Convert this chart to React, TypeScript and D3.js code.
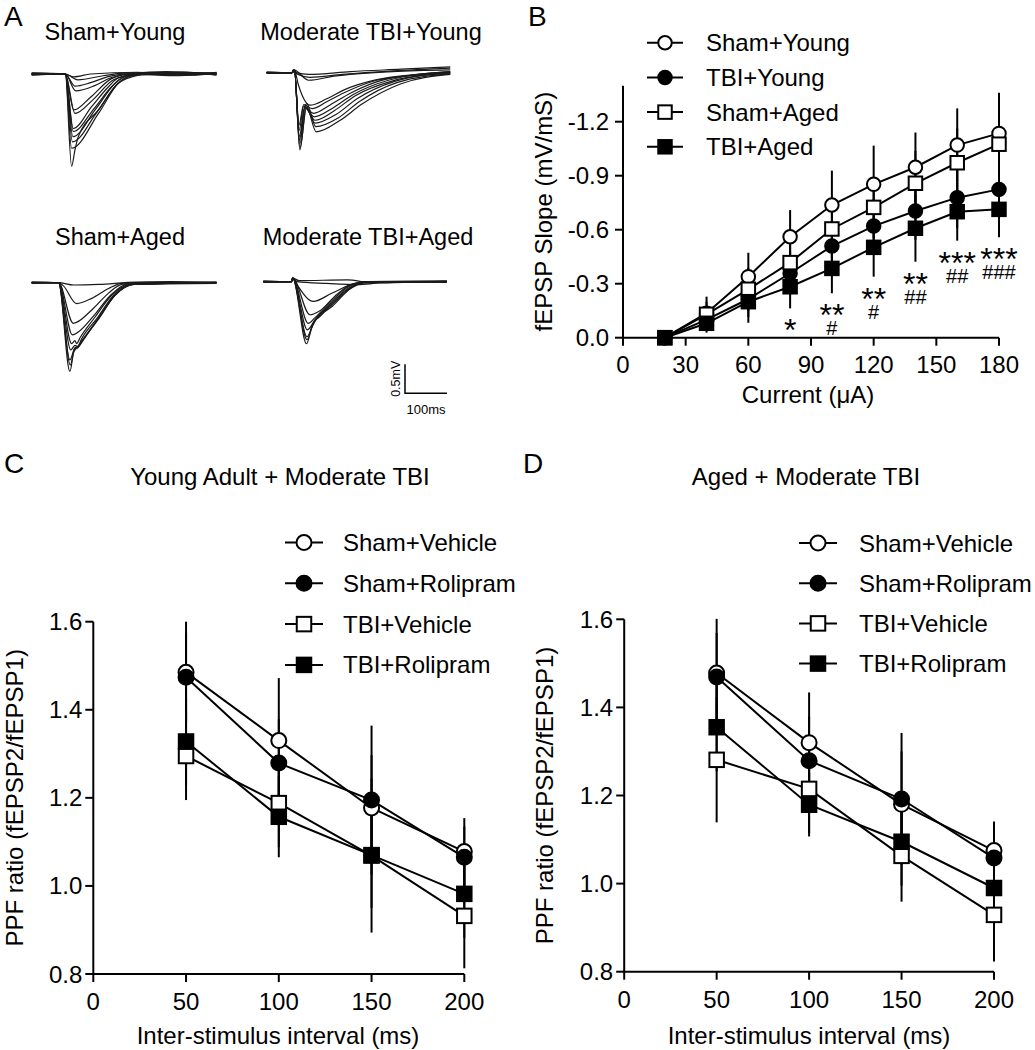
import React from "react";
import * as d3 from "d3";

const FONT = "'Liberation Sans', Arial, Helvetica, sans-serif";
type Pt = [number, number];

// ---------- Panel A: fEPSP traces (time ms, amplitude mV) ----------
const traceShamYoung: Pt[][] = [
  [[0, 0.01], [80, 0], [100, -0.05], [140, 0], [250, 0.03], [340, 0.0], [440, 0.02]],
  [[0, -0.01], [80, 0], [110, -0.1], [170, -0.03], [230, 0.02], [330, -0.02], [440, 0.0]],
  [[0, 0], [80, 0], [103, -0.21], [140, -0.15], [180, -0.05], [240, 0.01], [360, 0.03], [440, -0.02]],
  [[0, 0.02], [80, 0], [105, -0.29], [150, -0.2], [190, -0.06], [240, 0], [350, -0.03], [440, 0.03]],
  [[0, 0], [80, 0], [100, -0.62], [140, -0.4], [190, -0.08], [240, 0.01], [320, 0.04], [440, 0]],
  [[0, -0.02], [80, 0], [103, -0.68], [145, -0.45], [195, -0.1], [250, 0], [380, -0.02], [440, 0.01]],
  [[0, 0], [80, 0], [99, -0.94], [143, -0.56], [183, -0.22], [206, -0.07], [260, 0], [440, 0]],
  [[0, 0.01], [80, 0], [99, -0.99], [148, -0.6], [190, -0.22], [215, -0.06], [270, 0.02], [440, -0.01]],
  [[0, 0], [80, 0], [98, -1.08], [151, -0.62], [199, -0.16], [230, -0.03], [300, 0.02], [440, 0.02]],
  [[0, 0], [80, 0], [97, -1.17], [155, -0.66], [203, -0.18], [240, -0.02], [440, 0]],
  [[0, -0.01], [80, 0], [95, -1.28], [159, -0.68], [206, -0.16], [240, -0.03], [300, 0.01], [440, 0.01]],
  [[0, 0], [80, 0], [95, -1.59], [103, -1.31], [111, -1.08], [159, -0.62], [206, -0.16], [238, -0.05], [280, 0], [440, 0]],
];

const traceTbiYoung: Pt[][] = [
  [[0, 0], [60, 0], [64, 0.05], [70, 0], [100, -0.03], [200, 0.02], [320, 0.06], [437, 0.1]],
  [[0, 0.01], [60, 0], [64, 0.05], [72, -0.02], [103, -0.08], [180, -0.03], [300, 0.03], [437, 0.08]],
  [[0, 0], [60, 0], [64, 0.05], [100, -0.13], [160, -0.06], [300, 0.02], [437, 0.05]],
  [[0, -0.01], [60, 0], [66, 0.04], [75, -0.2], [103, -0.56], [143, -0.45], [183, -0.3], [262, -0.12], [341, -0.04], [437, 0.0]],
  [[0, 0], [60, 0], [66, 0.04], [77, -0.9], [88, -0.55], [108, -0.62], [143, -0.5], [183, -0.35], [262, -0.13], [341, -0.05], [437, -0.02]],
  [[0, 0], [60, 0], [66, 0.04], [77, -1.0], [88, -0.58], [112, -0.7], [150, -0.56], [200, -0.35], [280, -0.12], [437, 0.02]],
  [[0, 0.01], [60, 0], [66, 0.04], [78, -1.1], [90, -0.6], [113, -0.76], [155, -0.62], [205, -0.38], [290, -0.13], [437, 0.02]],
  [[0, 0], [60, 0], [66, 0.04], [78, -1.16], [91, -0.6], [115, -0.82], [160, -0.66], [210, -0.4], [300, -0.14], [437, 0.0]],
  [[0, 0], [60, 0], [66, 0.04], [79, -1.22], [92, -0.55], [115, -0.87], [165, -0.72], [215, -0.45], [305, -0.15], [437, 0.0]],
  [[0, -0.01], [60, 0], [66, 0.04], [79, -1.33], [95, -0.53], [117, -0.93], [170, -0.78], [220, -0.5], [310, -0.17], [437, -0.02]],
  [[0, 0], [60, 0], [66, 0.04], [79, -1.3], [95, -0.6], [118, -1.02], [175, -0.82], [225, -0.55], [320, -0.19], [437, -0.03]],
];

const traceShamAged: Pt[][] = [
  [[0, 0], [64, 0], [100, -0.04], [160, -0.03], [250, 0.01], [440, 0]],
  [[0, 0.01], [64, 0], [75, -0.05], [107, -0.36], [143, -0.27], [183, -0.1], [214, -0.01], [330, 0.02], [440, 0]],
  [[0, 0], [64, 0], [99, -0.7], [143, -0.47], [183, -0.18], [214, -0.03], [260, 0], [440, 0.01]],
  [[0, -0.01], [64, 0], [97, -0.9], [111, -0.85], [150, -0.55], [190, -0.2], [230, -0.02], [440, 0]],
  [[0, 0], [64, 0], [95, -1.05], [103, -1.0], [107, -1.05], [115, -0.95], [150, -0.6], [190, -0.22], [235, -0.03], [440, 0]],
  [[0, 0], [64, 0], [93, -1.16], [103, -1.08], [110, -1.1], [118, -0.98], [155, -0.62], [195, -0.22], [240, -0.03], [440, -0.01]],
  [[0, 0.01], [64, 0], [91, -1.33], [103, -1.12], [110, -1.1], [120, -1.0], [157, -0.63], [198, -0.22], [242, -0.03], [440, 0]],
  [[0, 0], [64, 0], [91, -1.53], [100, -1.2], [108, -1.12], [120, -1.0], [160, -0.62], [200, -0.2], [245, -0.03], [440, 0.01]],
  [[0, 0], [64, 0], [92, -1.42], [102, -1.14], [110, -1.12], [122, -1.0], [160, -0.6], [200, -0.2], [245, -0.02], [440, 0]],
];

const traceTbiAged: Pt[][] = [
  [[0, 0], [67, 0], [70, 0.06], [80, 0], [150, -0.03], [230, -0.05], [300, 0], [437, 0]],
  [[0, 0.01], [67, 0], [70, 0.06], [85, 0.02], [200, 0.03], [260, -0.02], [437, 0.01]],
  [[0, 0], [67, 0], [70, 0.06], [80, -0.05], [119, -0.34], [163, -0.2], [218, -0.03], [260, 0], [437, 0]],
  [[0, -0.01], [67, 0], [70, 0.06], [111, -0.57], [135, -0.5], [175, -0.22], [220, -0.03], [437, 0]],
  [[0, 0], [67, 0], [70, 0.06], [107, -0.72], [123, -0.62], [160, -0.35], [205, -0.08], [240, 0], [437, 0.01]],
  [[0, 0], [67, 0], [70, 0.06], [105, -0.83], [123, -0.66], [160, -0.38], [210, -0.08], [250, 0], [437, -0.01]],
  [[0, 0.01], [67, 0], [70, 0.06], [104, -0.95], [123, -0.66], [130, -0.63], [160, -0.4], [210, -0.09], [250, 0], [437, 0]],
  [[0, 0], [67, 0], [70, 0.06], [103, -1.07], [115, -0.8], [123, -0.68], [160, -0.42], [212, -0.1], [250, 0], [437, 0]],
  [[0, 0], [67, 0], [70, 0.06], [104, -1.0], [118, -0.74], [125, -0.66], [165, -0.42], [212, -0.09], [255, 0], [437, 0.01]],
];

const traceTitles = ["Sham+Young", "Moderate TBI+Young", "Sham+Aged", "Moderate TBI+Aged"];
const scaleBarMs = 100;
const scaleBarMv = 0.5;

// ---------- Panel B: input/output (fEPSP slope, mV/ms) ----------
const currentB = [20, 40, 60, 80, 100, 120, 140, 160, 180];
const bShamYoung = [0, -0.136, -0.339, -0.561, -0.737, -0.852, -0.947, -1.07, -1.135];
const bShamYoungSem = [0, 0.092, 0.133, 0.148, 0.191, 0.215, 0.193, 0.204, 0.226];
const bTbiYoung = [0, -0.1, -0.215, -0.358, -0.509, -0.62, -0.704, -0.778, -0.824];
const bTbiYoungSem = [0, 0.06, 0.1, 0.12, 0.14, 0.15, 0.16, 0.17, 0.18];
const bShamAged = [0, -0.13, -0.269, -0.417, -0.604, -0.724, -0.858, -0.972, -1.075];
const bShamAgedSem = [0, 0.07, 0.12, 0.14, 0.16, 0.17, 0.18, 0.19, 0.2];
const bTbiAged = [0, -0.08, -0.2, -0.283, -0.385, -0.502, -0.608, -0.7, -0.713];
const bTbiAgedSem = [0, 0.052, 0.117, 0.12, 0.138, 0.163, 0.186, 0.161, 0.155];
const sigStars = ["", "", "", "*", "**", "**", "**", "***", "***"];
const sigHashes = ["", "", "", "", "#", "#", "##", "##", "###"];
const xTicksB = [0, 30, 60, 90, 120, 150, 180];
const yTicksB = [0, -0.3, -0.6, -0.9, -1.2];

// ---------- Panels C & D: paired-pulse facilitation ----------
const isi = [50, 100, 150, 200];
const cShamVehicle = [1.485, 1.33, 1.177, 1.078];
const cShamVehicleSem = [0.115, 0.142, 0.12, 0.076];
const cShamRolipram = [1.474, 1.279, 1.195, 1.065];
const cShamRolipramSem = [0.1, 0.1, 0.169, 0.07];
const cTbiVehicle = [1.295, 1.188, 1.069, 0.932];
const cTbiVehicleSem = [0.1, 0.1, 0.175, 0.119];
const cTbiRolipram = [1.328, 1.157, 1.07, 0.982];
const cTbiRolipramSem = [0.1, 0.092, 0.12, 0.1];

const dShamVehicle = [1.478, 1.32, 1.18, 1.075];
const dShamVehicleSem = [0.123, 0.114, 0.12, 0.066];
const dShamRolipram = [1.469, 1.279, 1.192, 1.058];
const dShamRolipramSem = [0.1, 0.1, 0.15, 0.07];
const dTbiVehicle = [1.281, 1.215, 1.063, 0.929];
const dTbiVehicleSem = [0.142, 0.1, 0.104, 0.106];
const dTbiRolipram = [1.355, 1.179, 1.095, 0.99];
const dTbiRolipramSem = [0.1, 0.072, 0.1, 0.1];

const xTicksPPF = [0, 50, 100, 150, 200];
const yTicksPPF = [0.8, 1.0, 1.2, 1.4, 1.6];

type Series = { name: string; values: number[]; sem: number[]; shape: "circle" | "square"; filled: boolean };

function marker(key: string, cx: number, cy: number, shape: string, filled: boolean, size: number) {
  if (shape === "circle")
    return <circle key={key} cx={cx} cy={cy} r={size / 2} fill={filled ? "#000" : "#fff"} stroke="#000" strokeWidth={2} />;
  return (
    <rect key={key} x={cx - size / 2} y={cy - size / 2} width={size} height={size} fill={filled ? "#000" : "#fff"} stroke="#000" strokeWidth={2} />
  );
}

function TracePanel({ traces, x0, yb, title, titleX, titleY }: { traces: Pt[][]; x0: number; yb: number; title: string; titleX: number; titleY: number }) {
  const x = d3.scaleLinear().domain([0, 440]).range([x0, x0 + 0.42 * 440]);
  const y = d3.scaleLinear().domain([0, -1]).range([yb, yb + 58]);
  const line = d3
    .line<Pt>()
    .x((d) => x(d[0]))
    .y((d) => y(d[1]))
    .curve(d3.curveMonotoneX);
  return (
    <g>
      <text x={titleX} y={titleY} textAnchor="middle" fontSize={23.5} fontFamily={FONT}>
        {title}
      </text>
      {traces.map((t, i) => (
        <path key={i} d={line(t) || ""} fill="none" stroke="#1a1a1a" strokeWidth={1.2} />
      ))}
    </g>
  );
}

function PPFPanel({
  series, x0, x1, yBottom, yTop, title, titleX, legendLineX, legendTextX, legendY0, legendStep, yTitleX, xTitleX,
}: {
  series: Series[]; x0: number; x1: number; yBottom: number; yTop: number; title: string; titleX: number;
  legendLineX: number; legendTextX: number; legendY0: number; legendStep: number; yTitleX: number; xTitleX: number;
}) {
  const x = d3.scaleLinear().domain([0, 200]).range([x0, x1]);
  const y = d3.scaleLinear().domain([0.8, 1.6]).range([yBottom, yTop]);
  const line = d3
    .line<number>()
    .x((_, i) => x(isi[i]))
    .y((d) => y(d));
  const fmt = d3.format(".1f");
  return (
    <g fontFamily={FONT}>
      <text x={titleX} y={485} textAnchor="middle" fontSize={24}>
        {title}
      </text>
      {series.map((s, si) => {
        const cy = legendY0 + si * legendStep;
        return (
          <g key={"lg" + si}>
            <line x1={legendLineX - 19} x2={legendLineX + 19} y1={cy} y2={cy} stroke="#000" strokeWidth={2} />
            {marker("lm" + si, legendLineX, cy, s.shape, s.filled, s.shape === "circle" ? 15 : 14.5)}
            <text x={legendTextX} y={cy + 8.5} fontSize={24}>
              {s.name}
            </text>
          </g>
        );
      })}
      {/* axes */}
      <line x1={x0} x2={x0} y1={y(0.8)} y2={y(1.6)} stroke="#000" strokeWidth={2} />
      <line x1={x0 - 1} x2={x(200)} y1={y(0.8)} y2={y(0.8)} stroke="#000" strokeWidth={2} />
      {yTicksPPF.map((t) => (
        <g key={"yt" + t}>
          <line x1={x0 - 8} x2={x0} y1={y(t)} y2={y(t)} stroke="#000" strokeWidth={2} />
          <text x={x0 - 11} y={y(t) + 8.5} textAnchor="end" fontSize={24}>
            {fmt(t)}
          </text>
        </g>
      ))}
      {xTicksPPF.map((t) => (
        <g key={"xt" + t}>
          <line x1={x(t)} x2={x(t)} y1={y(0.8)} y2={y(0.8) + 8} stroke="#000" strokeWidth={2} />
          <text x={x(t)} y={y(0.8) + 36} textAnchor="middle" fontSize={24}>
            {t}
          </text>
        </g>
      ))}
      <text x={xTitleX} y={1044} textAnchor="middle" fontSize={24}>
        Inter-stimulus interval (ms)
      </text>
      <text transform={`translate(${yTitleX},${(y(0.8) + y(1.6)) / 2}) rotate(-90)`} textAnchor="middle" fontSize={24}>
        PPF ratio (fEPSP2/fEPSP1)
      </text>
      {/* error bars */}
      {series.map((s, si) =>
        s.values.map((v, i) => (
          <line key={"e" + si + "-" + i} x1={x(isi[i])} x2={x(isi[i])} y1={y(v - s.sem[i])} y2={y(v + s.sem[i])} stroke="#000" strokeWidth={2} />
        ))
      )}
      {series.map((s, si) => (
        <path key={"l" + si} d={line(s.values) || ""} fill="none" stroke="#000" strokeWidth={2} />
      ))}
      {series.map((s, si) => s.values.map((v, i) => marker("m" + si + "-" + i, x(isi[i]), y(v), s.shape, s.filled, s.shape === "circle" ? 15 : 14.5)))}
    </g>
  );
}

export default function App() {
  // Panel B scales
  const xB = d3.scaleLinear().domain([0, 180]).range([623, 999]);
  const yB = d3.scaleLinear().domain([0, -1.4]).range([337.7, 85.7]);
  const seriesB: Series[] = [
    { name: "Sham+Young", values: bShamYoung, sem: bShamYoungSem, shape: "circle", filled: false },
    { name: "TBI+Young", values: bTbiYoung, sem: bTbiYoungSem, shape: "circle", filled: true },
    { name: "Sham+Aged", values: bShamAged, sem: bShamAgedSem, shape: "square", filled: false },
    { name: "TBI+Aged", values: bTbiAged, sem: bTbiAgedSem, shape: "square", filled: true },
  ];
  const lineB = d3
    .line<number>()
    .x((_, i) => xB(currentB[i]))
    .y((d) => yB(d));

  const seriesC: Series[] = [
    { name: "Sham+Vehicle", values: cShamVehicle, sem: cShamVehicleSem, shape: "circle", filled: false },
    { name: "Sham+Rolipram", values: cShamRolipram, sem: cShamRolipramSem, shape: "circle", filled: true },
    { name: "TBI+Vehicle", values: cTbiVehicle, sem: cTbiVehicleSem, shape: "square", filled: false },
    { name: "TBI+Rolipram", values: cTbiRolipram, sem: cTbiRolipramSem, shape: "square", filled: true },
  ];
  const seriesD: Series[] = [
    { name: "Sham+Vehicle", values: dShamVehicle, sem: dShamVehicleSem, shape: "circle", filled: false },
    { name: "Sham+Rolipram", values: dShamRolipram, sem: dShamRolipramSem, shape: "circle", filled: true },
    { name: "TBI+Vehicle", values: dTbiVehicle, sem: dTbiVehicleSem, shape: "square", filled: false },
    { name: "TBI+Rolipram", values: dTbiRolipram, sem: dTbiRolipramSem, shape: "square", filled: true },
  ];

  // scale bar scales (same as trace scales)
  const sbX = d3.scaleLinear().domain([0, 440]).range([0, 0.42 * 440]);
  const sbY = d3.scaleLinear().domain([0, 1]).range([0, 58]);
  const sbLeft = 405;
  const sbBottom = 393.3;

  return (
    <svg
      width={1035}
      height={1050}
      style={{ position: "absolute", left: 0, top: 0, background: "#fff" }}
      fontFamily={FONT}
    >
      <rect x={0} y={0} width={1035} height={1050} fill="#fff" />
      {/* Panel labels */}
      <text x={4} y={26} fontSize={28}>A</text>
      <text x={528} y={26} fontSize={28}>B</text>
      <text x={4} y={473} fontSize={28}>C</text>
      <text x={523} y={473} fontSize={28}>D</text>

      {/* Panel A */}
      <TracePanel traces={traceShamYoung} x0={31.7} yb={74} title={traceTitles[0]} titleX={115} titleY={40} />
      <TracePanel traces={traceTbiYoung} x0={266.7} yb={72.7} title={traceTitles[1]} titleX={371} titleY={40} />
      <TracePanel traces={traceShamAged} x0={31.7} yb={282.7} title={traceTitles[2]} titleX={120} titleY={245} />
      <TracePanel traces={traceTbiAged} x0={263.3} yb={281.7} title={traceTitles[3]} titleX={368} titleY={245} />
      <path
        d={`M${sbLeft},${sbBottom - sbY(scaleBarMv)}V${sbBottom}H${sbLeft + sbX(scaleBarMs)}`}
        fill="none"
        stroke="#000"
        strokeWidth={1.5}
      />
      <text transform={`translate(${sbLeft - 5},${sbBottom - sbY(scaleBarMv) / 2}) rotate(-90)`} textAnchor="middle" fontSize={12.5}>
        {scaleBarMv}mV
      </text>
      <text x={sbLeft + sbX(scaleBarMs) / 2} y={sbBottom + 21} textAnchor="middle" fontSize={13}>
        {scaleBarMs}ms
      </text>

      {/* Panel B */}
      <g>
        {seriesB.map((s, si) => {
          const cy = 42.7 + si * 34.7;
          return (
            <g key={"lgB" + si}>
              <line x1={647} x2={683} y1={cy} y2={cy} stroke="#000" strokeWidth={2} />
              {marker("lmB" + si, 665, cy, s.shape, s.filled, 13.5)}
              <text x={706} y={cy + 8.5} fontSize={24}>
                {s.name}
              </text>
            </g>
          );
        })}
        <line x1={623} x2={623} y1={yB(0)} y2={yB(-1.4)} stroke="#000" strokeWidth={2} />
        <line x1={622} x2={xB(180)} y1={yB(0)} y2={yB(0)} stroke="#000" strokeWidth={2} />
        {yTicksB.map((t) => (
          <g key={"ytB" + t}>
            <line x1={615} x2={623} y1={yB(t)} y2={yB(t)} stroke="#000" strokeWidth={2} />
            <text x={609} y={yB(t) + 8.5} textAnchor="end" fontSize={24}>
              {t.toFixed(1)}
            </text>
          </g>
        ))}
        {xTicksB.map((t) => (
          <g key={"xtB" + t}>
            <line x1={xB(t)} x2={xB(t)} y1={yB(0)} y2={yB(0) + 8} stroke="#000" strokeWidth={2} />
            <text x={xB(t)} y={yB(0) + 35} textAnchor="middle" fontSize={24}>
              {t}
            </text>
          </g>
        ))}
        <text x={808} y={403} textAnchor="middle" fontSize={24}>
          Current (μA)
        </text>
        <text transform={`translate(552,${(yB(0) + yB(-1.4)) / 2}) rotate(-90)`} textAnchor="middle" fontSize={24}>
          fEPSP Slope (mV/mS)
        </text>
        {seriesB.map((s, si) =>
          s.values.map((v, i) =>
            s.sem[i] > 0 ? (
              <line key={"eB" + si + "-" + i} x1={xB(currentB[i])} x2={xB(currentB[i])} y1={yB(v - s.sem[i])} y2={yB(v + s.sem[i])} stroke="#000" strokeWidth={2} />
            ) : null
          )
        )}
        {seriesB.map((s, si) => (
          <path key={"lB" + si} d={lineB(s.values) || ""} fill="none" stroke="#000" strokeWidth={2} />
        ))}
        {seriesB.map((s, si) => s.values.map((v, i) => marker("mB" + si + "-" + i, xB(currentB[i]), yB(v), s.shape, s.filled, 13.5)))}
        {currentB.map((c, i) => {
          const center = yB(bTbiAged[i] + bTbiAgedSem[i]) + 14;
          return (
            <g key={"sig" + i}>
              {sigStars[i] && (
                <text x={xB(c)} y={center + 19} textAnchor="middle" fontSize={32}>
                  {sigStars[i]}
                </text>
              )}
              {sigHashes[i] && (
                <text x={xB(c)} y={center + 28} textAnchor="middle" fontSize={20}>
                  {sigHashes[i]}
                </text>
              )}
            </g>
          );
        })}
      </g>

      {/* Panel C */}
      <PPFPanel
        series={seriesC}
        x0={93.3}
        x1={464.3}
        yBottom={974}
        yTop={621.7}
        title="Young Adult + Moderate TBI"
        titleX={280}
        legendLineX={304}
        legendTextX={343}
        legendY0={542.5}
        legendStep={40.8}
        yTitleX={23}
        xTitleX={278}
      />
      {/* Panel D */}
      <PPFPanel
        series={seriesD}
        x0={624.2}
        x1={994}
        yBottom={971.7}
        yTop={619.3}
        title="Aged + Moderate TBI"
        titleX={806}
        legendLineX={818}
        legendTextX={859}
        legendY0={543}
        legendStep={40.2}
        yTitleX={553}
        xTitleX={809}
      />
    </svg>
  );
}
